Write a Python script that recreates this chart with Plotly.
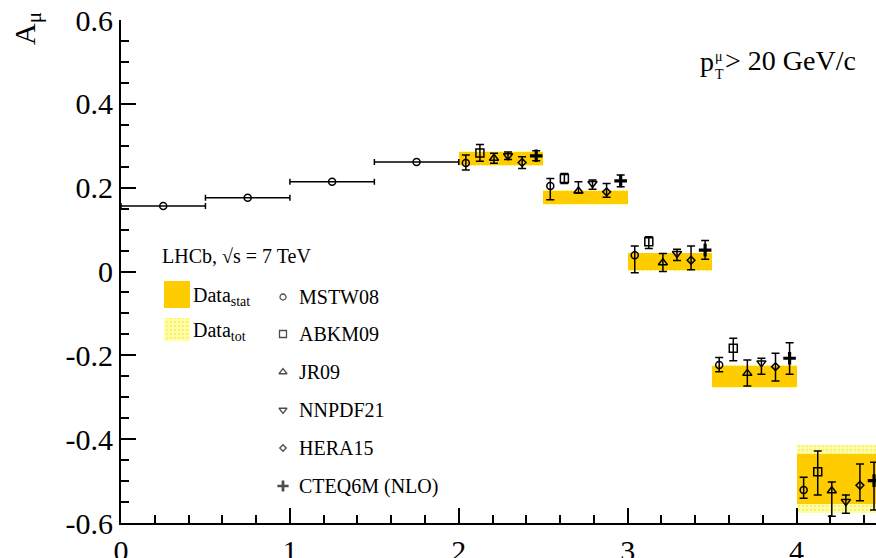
import plotly.graph_objects as go

# ---------------------------------------------------------------- figure frame
W, H = 876, 558
ML, MR, MT, MB = 121, 0, 20, 35
X_RANGE = [0.0, 4.47]
Y_RANGE = [-0.6, 0.6]
PLOT_W = W - ML - MR
PLOT_H = H - MT - MB
FONT = "Liberation Serif, Times New Roman, serif"

# ---------------------------------------------------------------- data
# muon pseudorapidity bins of the measurement
bin_lo = [2.0, 2.5, 3.0, 3.5, 4.0]
bin_width = 0.5
data_center = [0.270, 0.177, 0.023, -0.250, -0.495]
data_stat = [0.0155, 0.0155, 0.020, 0.025, 0.059]
data_tot = [0.0175, 0.0175, 0.022, 0.027, 0.080]

# MSTW08 prediction below the LHCb acceptance
low_eta_x = [0.25, 0.75, 1.25, 1.75]
low_eta_halfwidth = [0.25, 0.25, 0.25, 0.25]
low_eta_mstw08 = [0.156, 0.176, 0.214, 0.261]

models = ["MSTW08", "ABKM09", "JR09", "NNPDF21", "HERA15", "CTEQ6M (NLO)"]
# predictions per eta bin: value, +error, -error
pred_value = {
    "MSTW08":       [0.259, 0.204, 0.039, -0.223, -0.521],
    "ABKM09":       [0.283, 0.222, 0.071, -0.183, -0.478],
    "JR09":         [0.270, 0.192, 0.021, -0.243, -0.523],
    "NNPDF21":      [0.276, 0.210, 0.043, -0.218, -0.549],
    "HERA15":       [0.260, 0.190, 0.027, -0.227, -0.510],
    "CTEQ6M (NLO)": [0.276, 0.216, 0.051, -0.207, -0.499],
}
pred_err_plus = {
    "MSTW08":       [0.019, 0.018, 0.022, 0.018, 0.030],
    "ABKM09":       [0.020, 0.012, 0.012, 0.024, 0.050],
    "JR09":         [0.012, 0.022, 0.022, 0.032, 0.021],
    "NNPDF21":      [0.009, 0.008, 0.010, 0.011, 0.016],
    "HERA15":       [0.014, 0.020, 0.034, 0.032, 0.051],
    "CTEQ6M (NLO)": [0.012, 0.014, 0.023, 0.037, 0.044],
}
pred_err_minus = {
    "MSTW08":       [0.017, 0.033, 0.042, 0.016, 0.020],
    "ABKM09":       [0.020, 0.012, 0.016, 0.030, 0.055],
    "JR09":         [0.012, 0.005, 0.021, 0.030, 0.061],
    "NNPDF21":      [0.009, 0.014, 0.017, 0.027, 0.028],
    "HERA15":       [0.014, 0.013, 0.023, 0.034, 0.037],
    "CTEQ6M (NLO)": [0.012, 0.014, 0.022, 0.038, 0.070],
}
marker_symbol = {
    "MSTW08": "circle-open", "ABKM09": "square-open", "JR09": "triangle-up-open",
    "NNPDF21": "triangle-down-open", "HERA15": "diamond-open",
    "CTEQ6M (NLO)": "cross-thin-open",
}
marker_size = {
    "MSTW08": 7, "ABKM09": 8, "JR09": 8, "NNPDF21": 8, "HERA15": 6, "CTEQ6M (NLO)": 9,
}
marker_line = {
    "MSTW08": 1.5, "ABKM09": 1.5, "JR09": 1.5, "NNPDF21": 1.5, "HERA15": 1.5,
    "CTEQ6M (NLO)": 3.2,
}

y_tickvals = [-0.6, -0.4, -0.2, 0.0, 0.2, 0.4, 0.6]
y_ticktext = ["-0.6", "-0.4", "-0.2", "0", "0.2", "0.4", "0.6"]
x_tickvals = [0, 1, 2, 3, 4]
x_ticktext = ["0", "1", "2", "3", "4"]

ORANGE = "#ffcc00"
LIGHT_BG = "#ffffa8"
LIGHT_FG = "#f2e040"


# ---------------------------------------------------------------- helpers
def px2x(px):
    return X_RANGE[0] + (px - ML) / PLOT_W * (X_RANGE[1] - X_RANGE[0])


def px2y(py):
    return Y_RANGE[1] - (py - MT) / PLOT_H * (Y_RANGE[1] - Y_RANGE[0])


def paper_x(px):
    return (px - ML) / PLOT_W


def paper_y(py):
    return 1 - (py - MT) / PLOT_H


fig = go.Figure()

# ---------------------------------------------------------------- data bands
bin_center = [lo + bin_width / 2 for lo in bin_lo]
fig.add_trace(go.Bar(
    x=bin_center, width=[bin_width] * len(bin_lo),
    base=[c - t for c, t in zip(data_center, data_tot)],
    y=[2 * t for t in data_tot],
    marker=dict(color=LIGHT_BG, line=dict(width=0),
                pattern=dict(shape=".", fgcolor=LIGHT_FG, bgcolor=LIGHT_BG,
                             size=4, solidity=0.35)),
    showlegend=False, hoverinfo="skip",
))
fig.add_trace(go.Bar(
    x=bin_center, width=[bin_width] * len(bin_lo),
    base=[c - s for c, s in zip(data_center, data_stat)],
    y=[2 * s for s in data_stat],
    marker=dict(color=ORANGE, line=dict(width=0)),
    showlegend=False, hoverinfo="skip",
))

# ---------------------------------------------------------------- MSTW08 at low eta
fig.add_trace(go.Scatter(
    x=low_eta_x, y=low_eta_mstw08, mode="markers",
    marker=dict(symbol="circle-open", size=7, color="black", line=dict(width=1.5)),
    error_x=dict(type="data", array=low_eta_halfwidth, color="black",
                 thickness=1.5, width=3),
    showlegend=False,
))

# ---------------------------------------------------------------- theory predictions
n_models = len(models)
for k, name in enumerate(models):
    xs = [lo + (k + 0.5) * bin_width / n_models for lo in bin_lo]
    fig.add_trace(go.Scatter(
        x=xs, y=pred_value[name], mode="markers", name=name,
        marker=dict(symbol=marker_symbol[name], size=marker_size[name],
                    color="black", line=dict(width=marker_line[name], color="black")),
        error_y=dict(type="data", symmetric=False,
                     array=pred_err_plus[name], arrayminus=pred_err_minus[name],
                     color="black", thickness=1.5, width=4),
        showlegend=False,
    ))

# ---------------------------------------------------------------- hand-made legend
legend_row_px = [297, 334, 372, 410, 448, 486]
fig.add_trace(go.Scatter(
    x=[px2x(283)] * n_models, y=[px2y(p) for p in legend_row_px],
    mode="markers",
    marker=dict(symbol=[marker_symbol[m] for m in models],
                size=[marker_size[m] - 1 for m in models],
                color="black",
                line=dict(width=[marker_line[m] * 0.85 for m in models], color="black")),
    showlegend=False, hoverinfo="skip",
))
# legend boxes for the data bands
fig.add_trace(go.Bar(
    x=[px2x(177)], width=[px2x(190) - px2x(164)],
    base=[px2y(308)], y=[px2y(281) - px2y(308)],
    marker=dict(color=ORANGE, line=dict(width=0)),
    showlegend=False, hoverinfo="skip",
))
fig.add_trace(go.Bar(
    x=[px2x(177)], width=[px2x(190) - px2x(164)],
    base=[px2y(341)], y=[px2y(318) - px2y(341)],
    marker=dict(color=LIGHT_BG, line=dict(width=0),
                pattern=dict(shape=".", fgcolor=LIGHT_FG, bgcolor=LIGHT_BG,
                             size=4, solidity=0.35)),
    showlegend=False, hoverinfo="skip",
))

annotations = []


def add_text(text, px, py, size, xanchor="left", yanchor="middle", angle=0):
    annotations.append(dict(
        text=text, x=paper_x(px), y=paper_y(py), xref="paper", yref="paper",
        xanchor=xanchor, yanchor=yanchor, showarrow=False, textangle=angle,
        borderpad=0,
        font=dict(family=FONT, size=size, color="black"),
    ))


for m, p in zip(models, legend_row_px):
    add_text(m, 298, p, 20)

add_text("LHCb, √s = 7 TeV", 161, 256, 20)
add_text("Data<sub>stat</sub>", 192, 296, 20)
add_text("Data<sub>tot</sub>", 192, 331, 20)

# axis title
add_text("A<sub>μ</sub>", 27, 29, 30, xanchor="center", angle=-90)

# kinematic cut label
add_text("p", 699, 61, 28)
add_text("μ", 714, 56, 14)
add_text("T", 714, 75, 14)
add_text("> 20 GeV/c", 724, 60, 28)

fig.update_layout(
    width=W, height=H,
    margin=dict(l=ML, r=MR, t=MT, b=MB, pad=0, autoexpand=False),
    paper_bgcolor="white", plot_bgcolor="white",
    barmode="overlay", bargap=0,
    showlegend=False,
    annotations=annotations,
    font=dict(family=FONT, color="black"),
    xaxis=dict(
        range=X_RANGE, showgrid=False, zeroline=False, automargin=False,
        showline=True, linecolor="black", linewidth=2, mirror=False,
        ticks="inside", ticklen=15, tickwidth=2, tickcolor="black",
        tickvals=x_tickvals, ticktext=x_ticktext, ticklabelstandoff=0,
        tickfont=dict(family=FONT, size=30, color="black"),
        minor=dict(ticks="inside", ticklen=8, tickwidth=1.5, tickcolor="black",
                   dtick=0.2, tick0=0, showgrid=False),
    ),
    yaxis=dict(
        range=Y_RANGE, showgrid=False, zeroline=False, automargin=False,
        showline=True, linecolor="black", linewidth=2, mirror=False,
        ticks="inside", ticklen=15, tickwidth=2, tickcolor="black",
        tickvals=y_tickvals, ticktext=y_ticktext,
        tickfont=dict(family=FONT, size=30, color="black"),
        minor=dict(ticks="inside", ticklen=8, tickwidth=1.5, tickcolor="black",
                   dtick=0.05, tick0=0, showgrid=False),
    ),
)

fig.write_html("out.html")
